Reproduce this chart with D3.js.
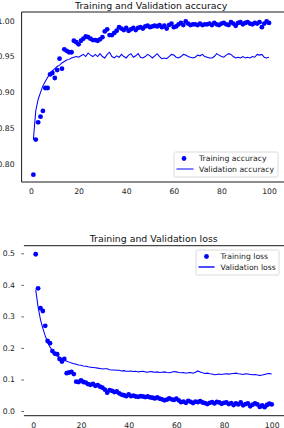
<!DOCTYPE html>
<html>
<head>
<meta charset="utf-8">
<script src="https://cdn.jsdelivr.net/npm/d3@7"></script>
<style>
  body { margin: 0; background: #fff; }
  svg { display: block; font-family: "DejaVu Sans", sans-serif; }
</style>
</head>
<body>
<div id="chart"></div>
<script>
// epochs 1..100
var epochs = d3.range(1, 101);

var trainAcc = [
  0.785, 0.834, 0.858, 0.866, 0.874, 0.906, 0.906, 0.925, 0.927, 0.920,
  0.931, 0.947, 0.933, 0.960, 0.958, 0.956, 0.956, 0.972, 0.970, 0.967,
  0.972, 0.975, 0.978, 0.977, 0.975, 0.973, 0.973, 0.972, 0.974, 0.977,
  0.985, 0.988, 0.980, 0.980, 0.983, 0.986, 0.991, 0.989, 0.987, 0.990,
  0.986, 0.988, 0.990, 0.987, 0.990, 0.991, 0.989, 0.992, 0.993, 0.991,
  0.992, 0.993, 0.992, 0.994, 0.991, 0.993, 0.989, 0.994, 0.996, 0.991,
  0.992, 0.995, 0.997, 0.994, 0.999, 0.996, 0.994, 0.995, 0.995, 0.994,
  0.996, 0.994, 0.995, 0.995, 0.996, 0.994, 0.997, 0.995, 0.994, 0.996,
  0.997, 0.995, 0.994, 0.998, 0.996, 0.993, 0.997, 0.998, 0.995, 0.997,
  0.998, 0.996, 0.995, 0.997, 0.996, 0.998, 0.991, 0.996, 0.999, 0.997
];

var valAcc = [
  0.834, 0.874, 0.890, 0.900, 0.909, 0.915, 0.921, 0.926, 0.930, 0.933,
  0.936, 0.938, 0.941, 0.943, 0.945, 0.946, 0.948, 0.949, 0.950, 0.949,
  0.951, 0.953, 0.950, 0.955, 0.952, 0.950, 0.953, 0.950, 0.954, 0.950,
  0.948, 0.953, 0.956, 0.950, 0.948, 0.951, 0.949, 0.953, 0.950, 0.948,
  0.952, 0.954, 0.949, 0.951, 0.954, 0.949, 0.948, 0.950, 0.953, 0.951,
  0.948, 0.951, 0.954, 0.950, 0.947, 0.948, 0.947, 0.950, 0.953, 0.952,
  0.949, 0.948, 0.950, 0.953, 0.952, 0.950, 0.949, 0.948, 0.949, 0.952,
  0.951, 0.953, 0.950, 0.949, 0.948, 0.948, 0.950, 0.954, 0.952, 0.950,
  0.949, 0.952, 0.954, 0.953, 0.950, 0.948, 0.949, 0.948, 0.950, 0.948,
  0.949, 0.948, 0.950, 0.949, 0.953, 0.952, 0.953, 0.949, 0.948, 0.949
];

var trainLoss = [
  0.497, 0.389, 0.326, 0.317, 0.270, 0.222, 0.215, 0.190, 0.182, 0.180,
  0.165, 0.157, 0.165, 0.120, 0.122, 0.124, 0.117, 0.093, 0.092, 0.097,
  0.092, 0.090, 0.085, 0.083, 0.086, 0.080, 0.082, 0.077, 0.074, 0.068,
  0.058, 0.066, 0.064, 0.060, 0.062, 0.056, 0.052, 0.050, 0.047, 0.053,
  0.047, 0.049, 0.046, 0.045, 0.047, 0.046, 0.044, 0.046, 0.043, 0.042,
  0.040, 0.043, 0.039, 0.037, 0.034, 0.036, 0.040, 0.037, 0.035, 0.039,
  0.034, 0.028, 0.030, 0.026, 0.032, 0.029, 0.025, 0.030, 0.028, 0.031,
  0.027, 0.025, 0.022, 0.026, 0.028, 0.024, 0.029, 0.027, 0.023, 0.026,
  0.027, 0.022, 0.025, 0.019, 0.024, 0.021, 0.027, 0.018, 0.022, 0.024,
  0.015, 0.020, 0.024, 0.021, 0.013, 0.018, 0.012, 0.019, 0.023, 0.021
];

var valLoss = [
  0.385, 0.330, 0.290, 0.262, 0.238, 0.218, 0.203, 0.192, 0.183, 0.176,
  0.170, 0.165, 0.161, 0.158, 0.155, 0.152, 0.150, 0.148, 0.146, 0.145,
  0.143, 0.142, 0.140, 0.139, 0.138, 0.137, 0.136, 0.135, 0.133, 0.134,
  0.134, 0.131, 0.130, 0.130, 0.129, 0.129, 0.127, 0.128, 0.126, 0.126,
  0.127, 0.125, 0.126, 0.124, 0.125, 0.126, 0.124, 0.123, 0.125, 0.124,
  0.123, 0.124, 0.122, 0.123, 0.124, 0.122, 0.121, 0.123, 0.125, 0.124,
  0.122, 0.121, 0.122, 0.120, 0.121, 0.122, 0.120, 0.123, 0.127, 0.124,
  0.121, 0.119, 0.120, 0.118, 0.117, 0.115, 0.116, 0.117, 0.116, 0.117,
  0.118, 0.117, 0.118, 0.119, 0.120, 0.118, 0.117, 0.116, 0.118, 0.117,
  0.116, 0.115, 0.116, 0.114, 0.113, 0.114, 0.116, 0.118, 0.119, 0.117
];

var xTicks = [0, 20, 40, 60, 80, 100];
var accTicks = [0.80, 0.85, 0.90, 0.95, 1.00];
var lossTicks = [0.0, 0.1, 0.2, 0.3, 0.4, 0.5];

var W = 284, H = 428;
var blue = "#0000ff";

var svg = d3.select("#chart").append("svg")
  .attr("width", W).attr("height", H);

function drawPanel(opt) {
  var g = svg.append("g");

  var x = d3.scaleLinear().domain([-3.95, 104.95]).range([opt.left, opt.right]);
  var y = d3.scaleLinear().domain(opt.ydomain).range([opt.bottom, opt.top]);

  // spines (right one falls off the picture)
  g.append("line").attr("x1", opt.left).attr("x2", W).attr("y1", opt.top).attr("y2", opt.top)
    .attr("stroke", "#000").attr("stroke-width", 0.9);
  g.append("line").attr("x1", opt.left).attr("x2", W).attr("y1", opt.bottom).attr("y2", opt.bottom)
    .attr("stroke", "#000").attr("stroke-width", 0.9);
  if (opt.leftSpine) {
    g.append("line").attr("x1", opt.left).attr("x2", opt.left).attr("y1", opt.top).attr("y2", opt.bottom)
      .attr("stroke", "#000").attr("stroke-width", 0.9);
  }

  var xAxis = g.append("g")
    .attr("transform", "translate(0," + opt.bottom + ")")
    .call(d3.axisBottom(x).tickValues(xTicks).tickSize(0).tickPadding(6.5).tickFormat(d3.format("d")));
  xAxis.select(".domain").remove();

  var yAxis = g.append("g")
    .attr("transform", "translate(" + opt.left + ",0)")
    .call(d3.axisLeft(y).tickValues(opt.yticks).tickSize(opt.ytickSize)
      .tickPadding(opt.ytickPad).tickFormat(d3.format(opt.yfmt)));
  yAxis.select(".domain").remove();

  g.selectAll(".tick text").attr("font-size", "7.7px").attr("fill", "#222")
    .attr("font-family", "DejaVu Sans, sans-serif");
  g.selectAll(".tick line").attr("stroke", "#333").attr("stroke-width", 0.8);

  // title
  g.append("text")
    .attr("x", (opt.left + opt.right) / 2).attr("y", opt.titleY)
    .attr("text-anchor", "middle").attr("font-size", "9.4px").attr("fill", "#111")
    .text(opt.title);

  var clip = "clip" + opt.id;
  g.append("clipPath").attr("id", clip).append("rect")
    .attr("x", opt.left).attr("y", opt.top).attr("width", opt.right - opt.left).attr("height", opt.bottom - opt.top);

  var plot = g.append("g").attr("clip-path", "url(#" + clip + ")");

  plot.selectAll("circle").data(opt.train).enter().append("circle")
    .attr("cx", function(d, i) { return x(epochs[i]); })
    .attr("cy", function(d) { return y(d); })
    .attr("r", 2.4)
    .attr("fill", blue);

  var line = d3.line()
    .x(function(d, i) { return x(epochs[i]); })
    .y(function(d) { return y(d); });

  plot.append("path").datum(opt.val)
    .attr("d", line)
    .attr("fill", "none")
    .attr("stroke", blue)
    .attr("stroke-width", 1.05);

  // legend
  var lg = g.append("g");
  lg.append("rect")
    .attr("x", opt.legend.x).attr("y", opt.legend.y)
    .attr("width", opt.legend.w).attr("height", opt.legend.h)
    .attr("rx", 1.5)
    .attr("fill", "#fff").attr("fill-opacity", 0.8)
    .attr("stroke", "#d0d0d0").attr("stroke-width", 0.8);
  lg.append("circle")
    .attr("cx", opt.legend.x + opt.legend.mark).attr("cy", opt.legend.y + 6.5)
    .attr("r", 2.4).attr("fill", blue);
  lg.append("line")
    .attr("x1", opt.legend.x + 2.5).attr("x2", opt.legend.x + 2.5 + opt.legend.lineW)
    .attr("y1", opt.legend.y + 17).attr("y2", opt.legend.y + 17)
    .attr("stroke", blue).attr("stroke-width", opt.legend.lineSW);
  lg.append("text")
    .attr("x", opt.legend.x + opt.legend.textX).attr("y", opt.legend.y + 9.4)
    .attr("font-size", "7.7px").attr("fill", "#222")
    .text(opt.labels[0]);
  lg.append("text")
    .attr("x", opt.legend.x + opt.legend.textX).attr("y", opt.legend.y + 19.9)
    .attr("font-size", "7.7px").attr("fill", "#222")
    .text(opt.labels[1]);
}

drawPanel({
  id: "acc",
  left: 21.6, right: 280.8, top: 12, bottom: 182,
  ydomain: [0.7747, 1.0122],
  yticks: accTicks, yfmt: ".2f", ytickSize: 0, ytickPad: 7,
  leftSpine: true,
  title: "Training and Validation accuracy", titleY: 8.6,
  train: trainAcc, val: valAcc,
  labels: ["Training accuracy", "Validation accuracy"],
  legend: { x: 174, y: 152, w: 104, h: 25, mark: 10, textX: 25, lineW: 17, lineSW: 1 }
});

drawPanel({
  id: "loss",
  left: 23.9, right: 283.5, top: 245.7, bottom: 415.7,
  ydomain: [-0.0149, 0.5241],
  yticks: lossTicks, yfmt: ".1f", ytickSize: 2.5, ytickPad: 6.4,
  leftSpine: false,
  title: "Training and Validation loss", titleY: 241.7,
  train: trainLoss, val: valLoss,
  labels: ["Training loss", "Validation loss"],
  legend: { x: 196, y: 250, w: 83, h: 25, mark: 10.5, textX: 24.5, lineW: 16, lineSW: 1.4 }
});
</script>
</body>
</html>
